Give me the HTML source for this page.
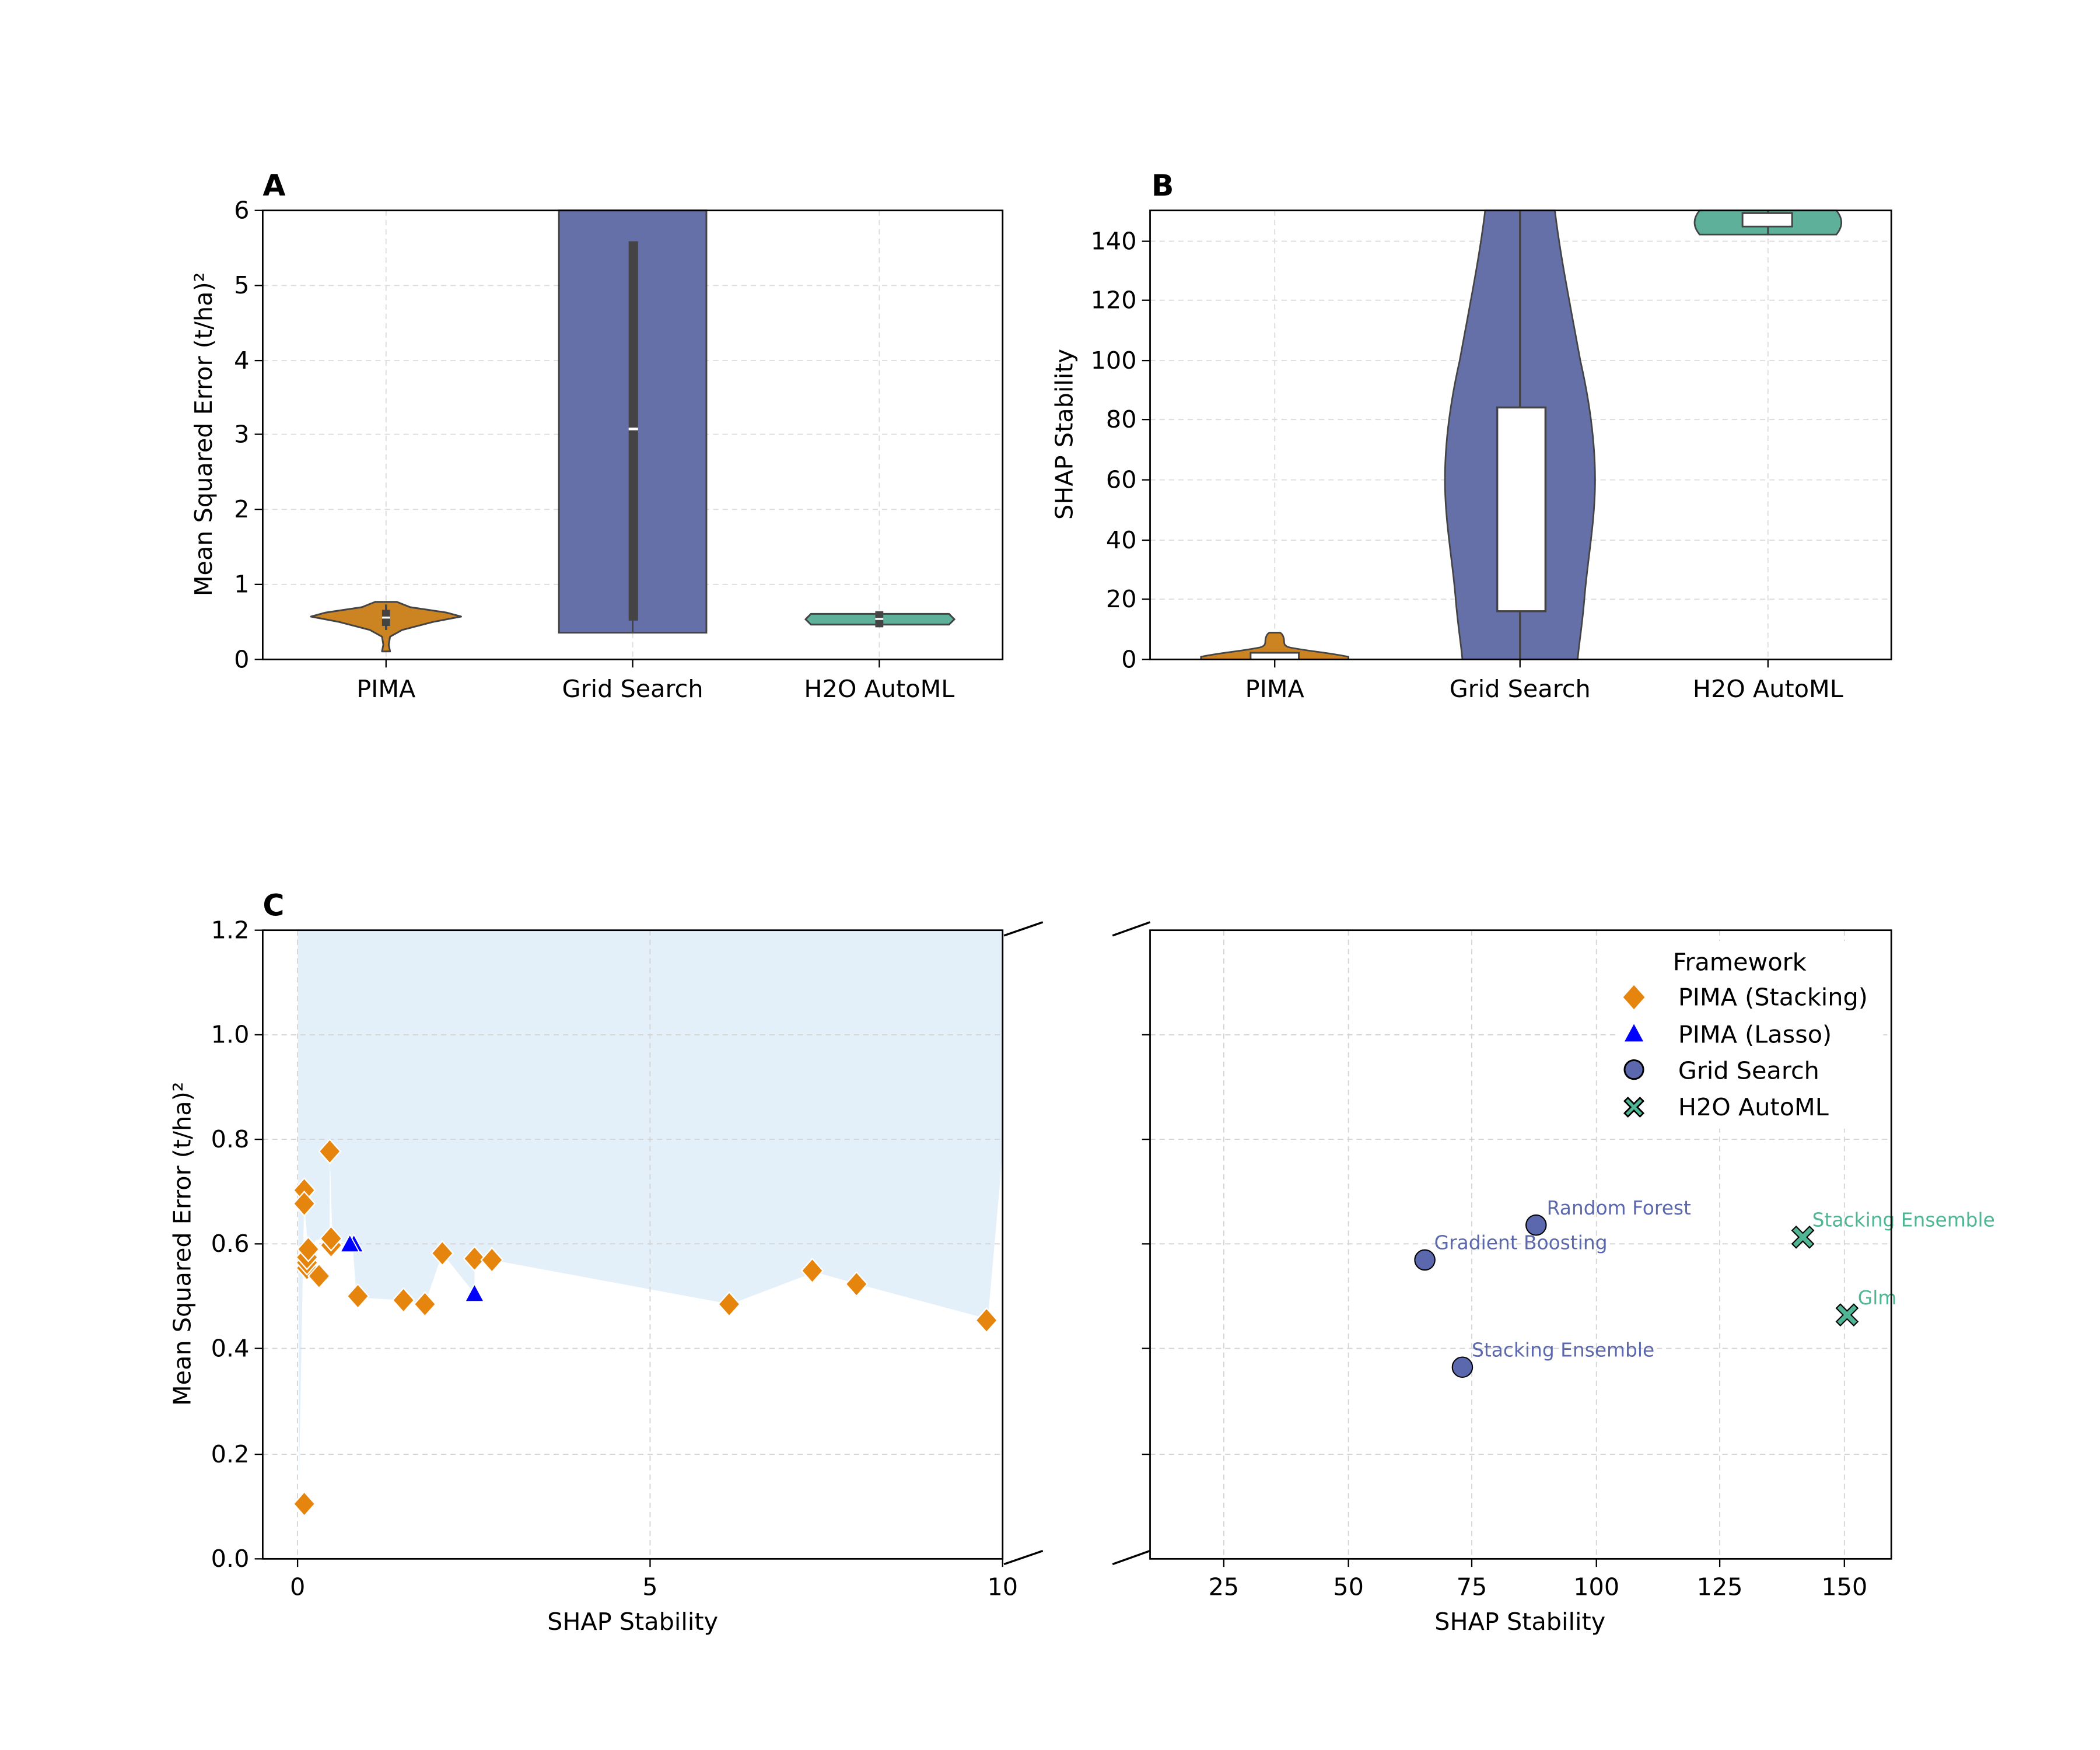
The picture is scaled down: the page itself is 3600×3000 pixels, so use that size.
<!DOCTYPE html>
<html><head><meta charset="utf-8"><style>html,body{margin:0;padding:0;background:#fff}svg{display:block}</style></head>
<body>
<svg width="3600" height="3000" viewBox="0 0 1566.7 1305.6" preserveAspectRatio="none" xmlns="http://www.w3.org/2000/svg" font-family="DejaVu Sans, Liberation Sans, sans-serif">
<rect width="1566.7" height="1305.6" fill="#fff"/>
<defs>
<path id="dia" d="M0,-9 L8,0 L0,9 L-8,0 Z"/>
</defs>
<g stroke="#dcdcdc" stroke-width="0.8" stroke-dasharray="4,3" fill="none">
<line x1="288" y1="157" x2="288" y2="492"/><line x1="472" y1="157" x2="472" y2="492"/><line x1="656" y1="157" x2="656" y2="492"/>
<line x1="196" y1="213" x2="748" y2="213"/><line x1="196" y1="269" x2="748" y2="269"/><line x1="196" y1="324" x2="748" y2="324"/><line x1="196" y1="380" x2="748" y2="380"/><line x1="196" y1="436" x2="748" y2="436"/>
<line x1="951" y1="157" x2="951" y2="492"/><line x1="1134" y1="157" x2="1134" y2="492"/><line x1="1319" y1="157" x2="1319" y2="492"/>
<line x1="858" y1="447" x2="1411" y2="447"/><line x1="858" y1="403" x2="1411" y2="403"/><line x1="858" y1="358" x2="1411" y2="358"/><line x1="858" y1="313" x2="1411" y2="313"/><line x1="858" y1="269" x2="1411" y2="269"/><line x1="858" y1="224" x2="1411" y2="224"/><line x1="858" y1="180" x2="1411" y2="180"/>
</g>
<rect x="417" y="157" width="110" height="315" fill="#6670a8" stroke="#444" stroke-width="1.3"/>
<line x1="472" y1="463" x2="472" y2="472" stroke="#444" stroke-width="1.3"/>
<rect x="469" y="180" width="7" height="283" fill="#444"/>
<rect x="469" y="319" width="7" height="2" fill="#fff"/>
<path d="M280,449 L296,449 L306,453 L333,457 L344,460 L323,464 L300,470 L291,475 L290,481 L291,486 L285,486 L286,481 L285,475 L276,470 L253,464 L232,460 L243,457 L270,453 Z" fill="#cc8422" stroke="#444" stroke-width="1.3" stroke-linejoin="round"/>
<rect x="285" y="455" width="6" height="12" fill="#444"/><line x1="288" y1="451" x2="288" y2="470" stroke="#444" stroke-width="1.5"/>
<rect x="285" y="460" width="6" height="1.5" fill="#fff"/>
<path d="M605,458 L708,458 L712,462 L708,466 L605,466 L601,462 Z" fill="#5fb09a" stroke="#444" stroke-width="1.3"/>
<rect x="653" y="456" width="6" height="12" fill="#444"/><rect x="653" y="461" width="6" height="1.5" fill="#fff"/>
<rect x="196" y="157" width="552" height="335" fill="none" stroke="#000" stroke-width="1.2"/>
<path d="M1108,157 C1104,190 1098,220 1089,269 C1082,300 1078,330 1078,358 C1078,390 1084,420 1086,447 C1088,470 1090,480 1091,492 L1177,492 C1178,480 1180,470 1182,447 C1184,420 1190,390 1190,358 C1190,330 1186,300 1179,269 C1170,220 1164,190 1160,157 Z" fill="#6670a8" stroke="#444" stroke-width="1.2"/>
<line x1="1134" y1="157" x2="1134" y2="492" stroke="#444" stroke-width="1.5"/>
<rect x="1117" y="304" width="36" height="152" fill="#fff" stroke="#444" stroke-width="1.5"/>
<path d="M896,492 L896,490 C910,487 925,486 940,483 C944,482 944,480 944,478 C944,476 945,473 947,472 L955,472 C957,473 958,476 958,478 C958,480 958,482 962,483 C977,486 992,487 1006,490 L1006,492 Z" fill="#cc8422" stroke="#444" stroke-width="1.2"/>
<rect x="933" y="487" width="36" height="5" fill="#fff" stroke="#444" stroke-width="1.3"/>
<path d="M1268,157 L1370,157 C1375,163 1375,169 1370,175 L1268,175 C1263,169 1263,163 1268,157 Z" fill="#5fb09a" stroke="#444" stroke-width="1.2"/>
<line x1="1319" y1="157" x2="1319" y2="175" stroke="#444" stroke-width="1.3"/>
<rect x="1300" y="159" width="37" height="10" fill="#fff" stroke="#444" stroke-width="1.3"/>
<rect x="858" y="157" width="553" height="335" fill="none" stroke="#000" stroke-width="1.2"/>
<g stroke="#000" stroke-width="1">
<line x1="190" y1="157" x2="196" y2="157"/><line x1="190" y1="213" x2="196" y2="213"/><line x1="190" y1="269" x2="196" y2="269"/><line x1="190" y1="324" x2="196" y2="324"/><line x1="190" y1="380" x2="196" y2="380"/><line x1="190" y1="436" x2="196" y2="436"/><line x1="190" y1="492" x2="196" y2="492"/>
<line x1="288" y1="492" x2="288" y2="498"/><line x1="472" y1="492" x2="472" y2="498"/><line x1="656" y1="492" x2="656" y2="498"/>
<line x1="852" y1="492" x2="858" y2="492"/><line x1="852" y1="447" x2="858" y2="447"/><line x1="852" y1="403" x2="858" y2="403"/><line x1="852" y1="358" x2="858" y2="358"/><line x1="852" y1="313" x2="858" y2="313"/><line x1="852" y1="269" x2="858" y2="269"/><line x1="852" y1="224" x2="858" y2="224"/><line x1="852" y1="180" x2="858" y2="180"/>
<line x1="951" y1="492" x2="951" y2="498"/><line x1="1134" y1="492" x2="1134" y2="498"/><line x1="1319" y1="492" x2="1319" y2="498"/>
</g>
<g font-size="18" fill="#000" text-anchor="end">
<text x="186" y="163">6</text><text x="186" y="219">5</text><text x="186" y="275">4</text><text x="186" y="330">3</text><text x="186" y="386">2</text><text x="186" y="442">1</text><text x="186" y="498">0</text>
<text x="848" y="498">0</text><text x="848" y="453">20</text><text x="848" y="409">40</text><text x="848" y="364">60</text><text x="848" y="319">80</text><text x="848" y="275">100</text><text x="848" y="230">120</text><text x="848" y="186">140</text>
</g>
<g font-size="18" fill="#000" text-anchor="middle">
<text x="288" y="520">PIMA</text><text x="472" y="520">Grid Search</text><text x="656" y="520">H2O AutoML</text>
<text x="951" y="520">PIMA</text><text x="1134" y="520">Grid Search</text><text x="1319" y="520">H2O AutoML</text>
<text transform="translate(158,324) rotate(-90)">Mean Squared Error (t/ha)²</text>
<text transform="translate(800,324) rotate(-90)">SHAP Stability</text>
<text transform="translate(142,928) rotate(-90)">Mean Squared Error (t/ha)²</text>
<text x="472" y="1216">SHAP Stability</text><text x="1134" y="1216">SHAP Stability</text>
</g>
<g font-size="22" font-weight="bold" fill="#000">
<text x="196" y="146">A</text><text x="859" y="146">B</text><text x="196" y="683">C</text>
</g>
<polygon points="222,694 223,1110 227,888 227,898 230,932 236,925 246,924 246,859 248,924 260,928 263,928 266,968 301,970 317,973 330,935 354,965 354,939 367,940 545,973 608,949 640,958 737,984 748,860 748,694" fill="#e3f0fa"/>
<g stroke="#d4d4d4" stroke-width="0.8" stroke-dasharray="4,3" fill="none">
<line x1="222" y1="694" x2="222" y2="1163"/><line x1="485" y1="694" x2="485" y2="1163"/>
<line x1="196" y1="1085" x2="748" y2="1085"/><line x1="196" y1="1006" x2="748" y2="1006"/><line x1="196" y1="928" x2="748" y2="928"/><line x1="196" y1="850" x2="748" y2="850"/><line x1="196" y1="772" x2="748" y2="772"/>
<line x1="913" y1="694" x2="913" y2="1163"/><line x1="1006" y1="694" x2="1006" y2="1163"/><line x1="1098" y1="694" x2="1098" y2="1163"/><line x1="1191" y1="694" x2="1191" y2="1163"/><line x1="1283" y1="694" x2="1283" y2="1163"/><line x1="1376" y1="694" x2="1376" y2="1163"/>
<line x1="858" y1="1085" x2="1411" y2="1085"/><line x1="858" y1="1006" x2="1411" y2="1006"/><line x1="858" y1="928" x2="1411" y2="928"/><line x1="858" y1="850" x2="1411" y2="850"/><line x1="858" y1="772" x2="1411" y2="772"/>
</g>
<g fill="#e6850e" stroke="#fff" stroke-width="1">
<use href="#dia" x="227" y="888"/><use href="#dia" x="227" y="898"/><use href="#dia" x="229" y="946"/><use href="#dia" x="229" y="942"/><use href="#dia" x="229" y="938"/><use href="#dia" x="230" y="932"/><use href="#dia" x="238" y="952"/><use href="#dia" x="246" y="859"/><use href="#dia" x="247" y="929"/><use href="#dia" x="247" y="924"/><use href="#dia" x="267" y="967"/><use href="#dia" x="301" y="970"/><use href="#dia" x="317" y="973"/><use href="#dia" x="330" y="935"/><use href="#dia" x="354" y="939"/><use href="#dia" x="367" y="940"/><use href="#dia" x="544" y="973"/><use href="#dia" x="606" y="948"/><use href="#dia" x="639" y="958"/><use href="#dia" x="736" y="985"/><use href="#dia" x="227" y="1122"/>
</g>
<g fill="#0000ff" stroke="#fff" stroke-width="0.8">
<path d="M264,921 L271,934 L257,934 Z"/><path d="M261,921 L268,934 L254,934 Z"/><path d="M354,958 L361,971 L347,971 Z"/>
</g>
<rect x="196" y="694" width="552" height="469" fill="none" stroke="#000" stroke-width="1.2"/>
<g stroke="#000" stroke-width="1.5"><line x1="749" y1="698" x2="778" y2="688"/><line x1="749" y1="1167" x2="778" y2="1157"/><line x1="830" y1="698" x2="858" y2="688"/><line x1="830" y1="1167" x2="858" y2="1157"/></g>
<g stroke="#000" stroke-width="1">
<line x1="190" y1="694" x2="196" y2="694"/><line x1="190" y1="772" x2="196" y2="772"/><line x1="190" y1="850" x2="196" y2="850"/><line x1="190" y1="928" x2="196" y2="928"/><line x1="190" y1="1006" x2="196" y2="1006"/><line x1="190" y1="1085" x2="196" y2="1085"/><line x1="190" y1="1163" x2="196" y2="1163"/>
<line x1="222" y1="1163" x2="222" y2="1169"/><line x1="485" y1="1163" x2="485" y2="1169"/><line x1="748" y1="1163" x2="748" y2="1169"/>
<line x1="852" y1="772" x2="858" y2="772"/><line x1="852" y1="850" x2="858" y2="850"/><line x1="852" y1="928" x2="858" y2="928"/><line x1="852" y1="1006" x2="858" y2="1006"/><line x1="852" y1="1085" x2="858" y2="1085"/>
<line x1="913" y1="1163" x2="913" y2="1169"/><line x1="1006" y1="1163" x2="1006" y2="1169"/><line x1="1098" y1="1163" x2="1098" y2="1169"/><line x1="1191" y1="1163" x2="1191" y2="1169"/><line x1="1283" y1="1163" x2="1283" y2="1169"/><line x1="1376" y1="1163" x2="1376" y2="1169"/>
</g>
<g font-size="18" fill="#000" text-anchor="end">
<text x="186" y="700">1.2</text><text x="186" y="778">1.0</text><text x="186" y="856">0.8</text><text x="186" y="934">0.6</text><text x="186" y="1012">0.4</text><text x="186" y="1091">0.2</text><text x="186" y="1169">0.0</text>
</g>
<g font-size="18" fill="#000" text-anchor="middle">
<text x="222" y="1190">0</text><text x="485" y="1190">5</text><text x="748" y="1190">10</text>
<text x="913" y="1190">25</text><text x="1006" y="1190">50</text><text x="1098" y="1190">75</text><text x="1191" y="1190">100</text><text x="1283" y="1190">125</text><text x="1376" y="1190">150</text>
</g>
<rect x="1205" y="702" width="200" height="140" fill="#fff"/>
<text x="1248" y="724" font-size="18">Framework</text>
<use href="#dia" x="1219" y="744" fill="#e6850e"/>
<path d="M1219,764 L1226,777 L1212,777 Z" fill="#0000ff"/>
<circle cx="1219" cy="798" r="7" fill="#5b68ae" stroke="#000" stroke-width="1.3"/>
<path transform="translate(1219,826)" d="M-7,-4.5 L-4.5,-7 L0,-2.5 L4.5,-7 L7,-4.5 L2.5,0 L7,4.5 L4.5,7 L0,2.5 L-4.5,7 L-7,4.5 L-2.5,0 Z" fill="#4fb594" stroke="#000" stroke-width="1.2"/>
<g font-size="18"><text x="1252" y="750">PIMA (Stacking)</text><text x="1252" y="778">PIMA (Lasso)</text><text x="1252" y="805">Grid Search</text><text x="1252" y="832">H2O AutoML</text></g>
<g fill="#5b68ae" stroke="#000" stroke-width="0.9">
<circle cx="1146" cy="914" r="7.5"/><circle cx="1063" cy="940" r="7.5"/><circle cx="1091" cy="1020" r="7.5"/>
</g>
<g fill="#4fb594" stroke="#000" stroke-width="0.9">
<path transform="translate(1345,923)" d="M-8,-5 L-5,-8 L0,-3 L5,-8 L8,-5 L3,0 L8,5 L5,8 L0,3 L-5,8 L-8,5 L-3,0 Z"/>
<path transform="translate(1378,981)" d="M-8,-5 L-5,-8 L0,-3 L5,-8 L8,-5 L3,0 L8,5 L5,8 L0,3 L-5,8 L-8,5 L-3,0 Z"/>
</g>
<g font-size="14.3" fill="#5b68ae">
<text x="1154" y="906">Random Forest</text><text x="1070" y="932">Gradient Boosting</text><text x="1098" y="1012">Stacking Ensemble</text>
</g>
<g font-size="14.3" fill="#4fb594">
<text x="1352" y="915">Stacking Ensemble</text><text x="1386" y="973">Glm</text>
</g>
<rect x="858" y="694" width="553" height="469" fill="none" stroke="#000" stroke-width="1.2"/>
</svg>
</body></html>
